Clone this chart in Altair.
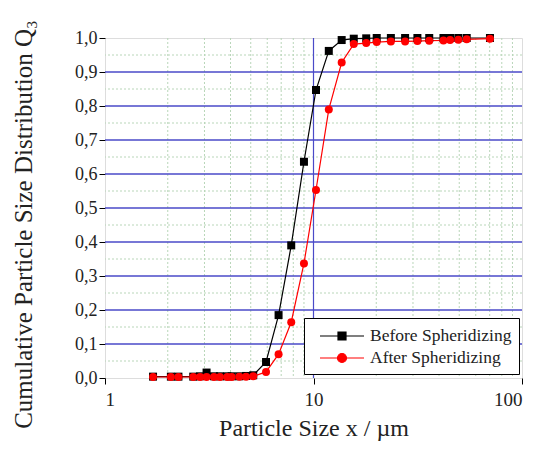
import altair as alt
import pandas as pd

# size classes (µm)
sizes = [1.70, 2.07, 2.25, 2.65, 2.86, 3.07, 3.33, 3.56, 3.86, 4.05, 4.41, 4.75, 5.14,
         5.92, 6.80, 7.82, 9.00, 10.28, 11.84, 13.65, 15.6, 17.9, 20.1, 23.5, 27.5,
         31.5, 35.9, 42.0, 45.2, 49.5, 54.3, 70.2]
before = [0.004, 0.004, 0.004, 0.004, 0.005, 0.016, 0.005, 0.005, 0.005, 0.005, 0.005, 0.006, 0.008,
          0.047, 0.185, 0.390, 0.636, 0.847, 0.962, 0.994, 0.998, 0.999, 1.0, 1.0, 1.0,
          1.0, 1.0, 1.0, 1.0, 1.0, 1.0, 1.0]
after = [0.003, 0.003, 0.003, 0.003, 0.003, 0.003, 0.003, 0.003, 0.003, 0.003, 0.004, 0.004, 0.005,
         0.018, 0.070, 0.164, 0.337, 0.553, 0.790, 0.928, 0.982, 0.985, 0.988, 0.990, 0.990,
         0.991, 0.992, 0.993, 0.994, 0.995, 0.996, 0.998]
series_names = ["Before Spheridizing", "After Spheridizing"]
series_colors = ["#000000", "#ff0000"]

x_ticks = [1, 10, 100]
x_minor = [2, 3, 4, 5, 6, 7, 8, 9, 20, 30, 40, 50, 60, 70, 80, 90]
y_ticks = [0.0, 0.1, 0.2, 0.3, 0.4, 0.5, 0.6, 0.7, 0.8, 0.9, 1.0]
y_minor = [0.05, 0.15, 0.25, 0.35, 0.45, 0.55, 0.65, 0.75, 0.85, 0.95]

rows = []
for name, vals in zip(series_names, [before, after]):
    for i, (s, v) in enumerate(zip(sizes, vals)):
        rows.append({"size": s, "q3": v, "series": name, "idx": i})
df = pd.DataFrame(rows)

FONT = "Liberation Serif"
x_scale = alt.Scale(type="log", domain=[1, 100], nice=False)
y_scale = alt.Scale(domain=[0, 1], nice=False)

x_axis = alt.Axis(values=x_ticks, grid=False, domain=False, tickColor="black", tickSize=6,
                  labelFont=FONT, labelFontSize=19, labelColor="#222222", labelPadding=6,
                  title="Particle Size x / µm", titleFont=FONT, titleFontSize=24,
                  titleFontWeight="normal", titleColor="#222222", titleY=57, titleBaseline="alphabetic")
y_axis = alt.Axis(values=y_ticks, grid=False, domain=False, tickColor="black", tickSize=6,
                  labelExpr="replace(format(datum.value, '.1f'), '.', ',')",
                  labelFont=FONT, labelFontSize=18, labelColor="#222222", labelPadding=2,
                  title="Cumulative Particle Size Distribution Q₃", titleFont=FONT, titleFontSize=25,
                  titleFontWeight="normal", titleColor="#222222", titleX=-82, titleY=186,
                  titleBaseline="middle")

def X(field="size"):
    return alt.X(f"{field}:Q", scale=x_scale, axis=x_axis)

def Y(field="q3"):
    return alt.Y(f"{field}:Q", scale=y_scale, axis=y_axis)

minor_x = alt.Chart(pd.DataFrame({"size": x_minor})).mark_rule(
    color="#b9d6b9", strokeDash=[2, 2], strokeWidth=1).encode(x=X())
minor_y = alt.Chart(pd.DataFrame({"q3": y_minor})).mark_rule(
    color="#b9d6b9", strokeDash=[2, 2], strokeWidth=1).encode(y=Y())
major_y = alt.Chart(pd.DataFrame({"q3": y_ticks[1:-1]})).mark_rule(
    color="#4a4ac8", strokeWidth=1.6).encode(y=Y())
major_x = alt.Chart(pd.DataFrame({"size": [10]})).mark_rule(
    color="#4a4ac8", strokeWidth=1.2).encode(x=X())

color_scale = alt.Scale(domain=series_names, range=series_colors)

lines = alt.Chart(df).mark_line(strokeWidth=1.2).encode(
    x=X(), y=Y(),
    color=alt.Color("series:N", scale=color_scale, legend=None),
    order="idx:Q",
)

points = alt.Chart(df).mark_point(filled=True, size=64, opacity=1).encode(
    x=X(), y=Y(),
    color=alt.Color("series:N", scale=color_scale, legend=None),
    shape=alt.Shape("series:N", scale=alt.Scale(domain=series_names, range=["square", "circle"]), legend=None),
)

sq_path = "M-2.2,0H2.2M-0.4,-0.4H0.4V0.4H-0.4Z"
ci_path = "M-2.2,0H2.2M0.45,0A0.45,0.45 0 1,1 -0.45,0A0.45,0.45 0 1,1 0.45,0Z"

def mk_legend():
    return alt.Legend(
        orient="none", legendX=199, legendY=280, title=None,
        symbolSize=400, symbolOffset=20, labelOffset=17,
        fillColor="white", strokeColor="black", padding=7, rowPadding=2,
        labelFont=FONT, labelFontSize=17.5, labelColor="#222222",
        symbolStrokeWidth=1.2, symbolOpacity=1,
    )

legend_layer = alt.Chart(df).transform_filter("false").mark_point(filled=True, size=400).encode(
    x=X(), y=Y(),
    color=alt.Color("series:N", scale=color_scale, legend=mk_legend()),
    stroke=alt.Stroke("series:N", scale=alt.Scale(domain=series_names, range=series_colors), legend=mk_legend()),
    shape=alt.Shape("series:N", scale=alt.Scale(domain=series_names, range=[sq_path, ci_path]), legend=mk_legend()),
)

chart = alt.layer(minor_x, minor_y, major_y, major_x, lines, points, legend_layer).resolve_scale(
    shape="independent", stroke="independent"
).resolve_legend(color="independent", shape="independent", stroke="independent").properties(
    width=417, height=340,
    autosize=alt.AutoSizeParams(type="none"),
    padding={"left": 97, "top": 30, "right": 8, "bottom": 63},
).configure_view(stroke="black", strokeWidth=1.5).configure(background="white")

chart.save("out.html", embed_options={"renderer": "svg", "actions": False})
